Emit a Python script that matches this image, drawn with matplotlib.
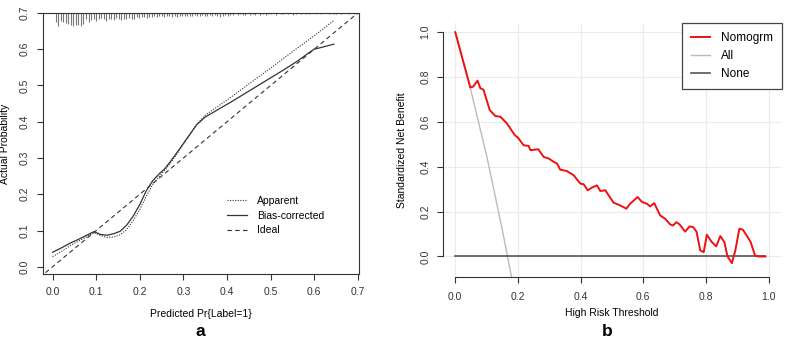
import numpy as np
import matplotlib
matplotlib.use('Agg')
import matplotlib.pyplot as plt

plt.rcParams['font.family'] = ['Liberation Sans', 'DejaVu Sans']
plt.rcParams['font.size'] = 7.5

# ---- panel a: calibration curve ----
cal_x = [0.0, 0.02, 0.04, 0.06, 0.08, 0.095, 0.11, 0.125, 0.14, 0.155, 0.17, 0.185,
         0.2, 0.215, 0.23, 0.245, 0.257, 0.27, 0.29, 0.31, 0.33, 0.35, 0.38, 0.41,
         0.44, 0.47, 0.5, 0.53, 0.56, 0.59, 0.6, 0.62, 0.645]
bias_corrected = [0.040, 0.052, 0.065, 0.076, 0.088, 0.097, 0.089, 0.087, 0.091, 0.098, 0.115, 0.140,
                  0.172, 0.210, 0.238, 0.257, 0.270, 0.290, 0.323, 0.357, 0.391, 0.413, 0.434, 0.455,
                  0.477, 0.499, 0.521, 0.543, 0.566, 0.592, 0.600, 0.606, 0.614]
app_x = [0.0, 0.02, 0.04, 0.06, 0.08, 0.095, 0.11, 0.125, 0.14, 0.155, 0.17, 0.185,
         0.2, 0.215, 0.23, 0.245, 0.26, 0.27, 0.29, 0.31, 0.33, 0.35, 0.4, 0.45,
         0.5, 0.55, 0.6, 0.645]
apparent = [0.028, 0.042, 0.058, 0.071, 0.084, 0.094, 0.086, 0.081, 0.082, 0.088, 0.103, 0.128,
            0.158, 0.195, 0.228, 0.250, 0.270, 0.285, 0.320, 0.356, 0.392, 0.418, 0.460, 0.504,
            0.548, 0.593, 0.637, 0.679]
ideal = [-0.03, 0.71]

# rug of predicted values (relative frequencies, drawn from the top border)
rug_counts = [10, 14, 9, 10, 11, 12, 13, 14, 13, 13, 14, 12, 7, 10, 8, 7, 9, 7, 6, 7,
              9, 7, 7, 8, 6, 7, 8, 7, 7, 6, 7, 7, 5, 6, 5, 5, 6, 4, 5, 3,
              4, 3, 3, 5, 3, 3, 4, 3, 5, 3, 3, 3, 3, 3, 3, 2, 3,
              3, 2, 3, 3, 2, 3, 2, 3, 4, 3, 2, 3, 2,
              2, 0, 2, 1, 2, 2, 0, 2, 1, 2, 0, 2, 1, 2, 1,
              1, 0, 2, 0, 1, 1, 0, 1, 0, 2, 1, 0, 1, 0, 1, 1, 0,
              0, 1, 0, 1, 0, 0, 1, 0, 1, 1, 0, 1, 0, 0, 1, 0, 1, 1]
rug_lo, rug_hi = 0.007, 0.697

# ---- panel b: decision curve ----
thr = [0.0, 0.048, 0.057, 0.071, 0.08, 0.09, 0.11, 0.128, 0.144, 0.165, 0.19, 0.2,
       0.218, 0.234, 0.24, 0.265, 0.282, 0.298, 0.314, 0.325, 0.335, 0.356, 0.378, 0.399,
       0.41, 0.423, 0.436, 0.452, 0.463, 0.479, 0.505, 0.526, 0.546, 0.558, 0.582, 0.596,
       0.612, 0.622, 0.635, 0.654, 0.67, 0.686, 0.695, 0.706, 0.716, 0.729, 0.734, 0.748,
       0.759, 0.77, 0.782, 0.793, 0.803, 0.819, 0.833, 0.846, 0.859, 0.869, 0.883, 0.894,
       0.907, 0.918, 0.93, 0.943, 0.957, 0.968, 0.99]
nomogram = [1.0, 0.754, 0.757, 0.784, 0.75, 0.744, 0.653, 0.626, 0.623, 0.593, 0.541, 0.53,
            0.496, 0.493, 0.474, 0.478, 0.444, 0.437, 0.422, 0.414, 0.387, 0.381, 0.362, 0.325,
            0.322, 0.295, 0.307, 0.317, 0.292, 0.295, 0.24, 0.228, 0.213, 0.235, 0.265, 0.243,
            0.235, 0.223, 0.238, 0.183, 0.168, 0.143, 0.138, 0.153, 0.143, 0.119, 0.111, 0.134,
            0.131, 0.111, 0.027, 0.019, 0.097, 0.064, 0.045, 0.091, 0.064, 0.0, -0.03, 0.027,
            0.124, 0.119, 0.094, 0.064, 0.004, 0.0, 0.0]
all_thr = [0.0, 0.05, 0.1, 0.15, 0.18]
treat_all = [1.0, 0.74, 0.45, 0.12, -0.095]
none_thr = [0.0, 0.99]
treat_none = [0.0, 0.0]

fig = plt.figure(figsize=(7.85, 3.4), dpi=100)

# panel a
ax1 = fig.add_axes([0.0548, 0.193, 0.4022, 0.769])
ink = '#333333'
ax1.plot(app_x, apparent, color=ink, lw=0.8, ls=(0, (1, 1.3)), label='Apparent')
ax1.plot(cal_x, bias_corrected, color=ink, lw=0.9, ls='-', label='Bias-corrected')
ax1.plot(ideal, ideal, color=ink, lw=0.8, ls=(0, (4, 3)), label='Ideal')
ax1.set_xlim(-0.022, 0.702)
ax1.set_ylim(-0.021, 0.70)
rug_x = np.linspace(rug_lo, rug_hi, len(rug_counts))
rug_len = np.array(rug_counts) * 0.0025
keep = rug_len > 0
ax1.vlines(rug_x[keep], 0.70 - rug_len[keep], 0.70, color='#777777', lw=0.8)
ax1.set_xticks(np.arange(0, 0.71, 0.1))
ax1.set_yticks(np.arange(0, 0.71, 0.1))
ax1.xaxis.set_major_formatter(matplotlib.ticker.FormatStrFormatter('%.1f'))
ax1.yaxis.set_major_formatter(matplotlib.ticker.FormatStrFormatter('%.1f'))
ax1.tick_params(axis='x', length=4, width=0.8, pad=5, colors='#333333')
ax1.tick_params(axis='y', length=4, width=0.8, pad=6, colors='#333333')
plt.setp(ax1.get_yticklabels(), rotation=90, va='center')
for s in ax1.spines.values():
    s.set_color('#333333')
    s.set_linewidth(0.8)
ax1.set_xlabel('Predicted Pr{Label=1}')
ax1.set_ylabel('Actual Probability')
ax1.xaxis.set_label_coords(0.5, -0.132)
ax1.yaxis.set_label_coords(-0.103, 0.5)
ax1.legend(loc='upper left', bbox_to_anchor=(0.582, 0.30), frameon=False,
           borderpad=0, borderaxespad=0, handlelength=1.9, handletextpad=1.0,
           labelspacing=0.45, fontsize=7.5)

# panel b
ax2 = fig.add_axes([0.564, 0.185, 0.431, 0.748])
ax2.set_xlim(-0.04, 1.04)
ax2.set_ylim(-0.092, 1.042)
for g in np.arange(0, 1.01, 0.2):
    ax2.axvline(g, color='#ebebeb', lw=0.8, zorder=0)
    ax2.axhline(g, color='#ebebeb', lw=0.8, zorder=0)
ax2.plot(thr, nomogram, color='#ee1111', lw=1.4, label='Nomogrm', zorder=3)
ax2.plot(all_thr, treat_all, color='#bbbbbb', lw=1.0, label='All', zorder=2)
ax2.plot(none_thr, treat_none, color='#555555', lw=1.2, label='None', zorder=2)
ax2.set_xticks(np.arange(0, 1.01, 0.2))
ax2.set_yticks(np.arange(0, 1.01, 0.2))
ax2.xaxis.set_major_formatter(matplotlib.ticker.FormatStrFormatter('%.1f'))
ax2.yaxis.set_major_formatter(matplotlib.ticker.FormatStrFormatter('%.1f'))
ax2.tick_params(axis='x', length=4, width=0.8, pad=7, colors='#333333')
ax2.tick_params(axis='y', length=4, width=0.8, pad=5, colors='#333333')
plt.setp(ax2.get_yticklabels(), rotation=90, va='center')
ax2.spines['top'].set_visible(False)
ax2.spines['right'].set_visible(False)
for side in ['left', 'bottom']:
    ax2.spines[side].set_bounds(0, 1)
    ax2.spines[side].set_color('#333333')
    ax2.spines[side].set_linewidth(0.8)
ax2.set_xlabel('High Risk Threshold')
ax2.set_ylabel('Standardized Net Benefit')
ax2.xaxis.set_label_coords(0.5, -0.12)
ax2.yaxis.set_label_coords(-0.105, 0.5)
leg = ax2.legend(loc='upper right', bbox_to_anchor=(1.003, 1.0), borderaxespad=0,
                 fancybox=False, edgecolor='#444444', framealpha=1, fontsize=8.5,
                 handlelength=1.6, handletextpad=0.9, labelspacing=0.5, borderpad=0.8)
leg.get_frame().set_linewidth(0.9)

fig.text(0.255, 0.026, 'a', fontsize=12.5, fontweight='bold', ha='center', va='center')
fig.text(0.773, 0.026, 'b', fontsize=12.5, fontweight='bold', ha='center', va='center')

fig.savefig('out.png', dpi=100)
